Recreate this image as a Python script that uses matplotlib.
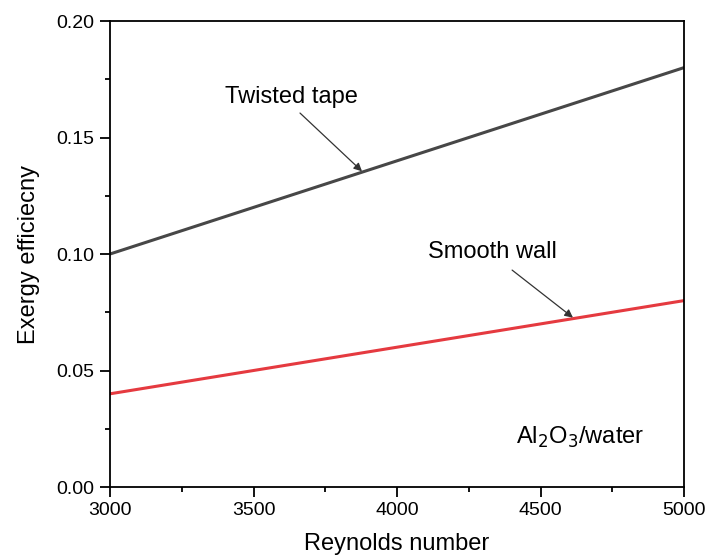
import matplotlib
matplotlib.use("Agg")
import matplotlib.pyplot as plt
from matplotlib.ticker import MultipleLocator

plt.rcParams['font.family'] = ['Liberation Sans', 'DejaVu Sans']

# data
reynolds = [3000, 5000]
twisted_tape = [0.10, 0.18]
smooth_wall = [0.04, 0.08]

fig = plt.figure(figsize=(7.07, 5.56), dpi=100)
ax = fig.add_axes([0.1556, 0.1241, 0.8119, 0.8381])

ax.plot(reynolds, twisted_tape, color="#474747", lw=2.2)
ax.plot(reynolds, smooth_wall, color="#e53a40", lw=2.2)

ax.set_xlim(3000, 5000)
ax.set_ylim(0.0, 0.20)
ax.xaxis.set_major_locator(MultipleLocator(500))
ax.xaxis.set_minor_locator(MultipleLocator(250))
ax.yaxis.set_major_locator(MultipleLocator(0.05))
ax.yaxis.set_minor_locator(MultipleLocator(0.025))
ax.yaxis.set_major_formatter(plt.FormatStrFormatter("%.2f"))
ax.tick_params(which="major", direction="out", length=7, width=1.3,
               labelsize=14, pad=4)
ax.tick_params(which="minor", direction="out", length=3.5, width=1.3)
for s in ax.spines.values():
    s.set_linewidth(1.3)

ax.set_xlabel("Reynolds number", fontsize=17, labelpad=10)
ax.set_ylabel("Exergy efficiecny", fontsize=17, labelpad=12)

arrow = dict(arrowstyle="-|>", color="#333333", lw=0.9, mutation_scale=12,
             shrinkA=0, shrinkB=0)
ax.text(3631, 0.1674, "Twisted tape", fontsize=17, ha="center", va="center")
ax.annotate("", xy=(3878, 0.1355), xytext=(3662, 0.1605), arrowprops=arrow)

ax.text(4331, 0.1009, "Smooth wall", fontsize=17, ha="center", va="center")
ax.annotate("", xy=(4613, 0.0727), xytext=(4401, 0.0931), arrowprops=arrow)

ax.text(4638, 0.0215, r"Al$_2$O$_3$/water", fontsize=17, ha="center", va="center")

fig.savefig("out.png", dpi=100)
